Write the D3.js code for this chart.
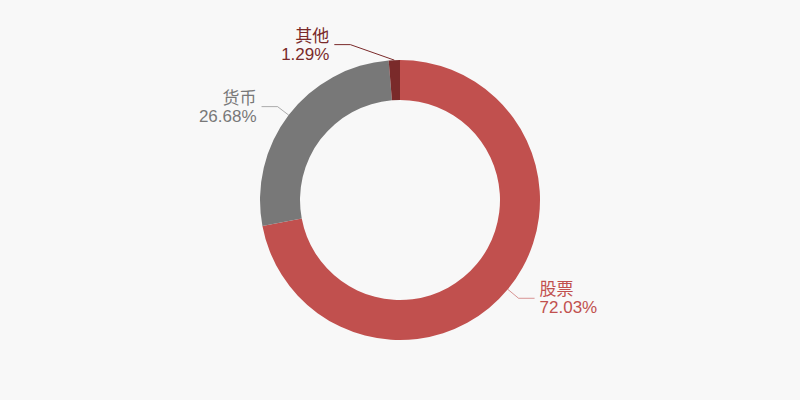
<!DOCTYPE html>
<html>
<head>
<meta charset="utf-8">
<script src="https://cdn.jsdelivr.net/npm/d3@7"></script>
<style>
html,body{margin:0;padding:0;background:#f8f8f8;}
svg{display:block;}
</style>
</head>
<body>
<svg id="chart" width="800" height="400"></svg>
<script>
const categories = ["股票", "货币", "其他"];
const values = [72.03, 26.68, 1.29];
const colors = ["#c1504e", "#787878", "#7a2a2a"];

const W = 800, H = 400, cx = 400, cy = 200;
const rOuter = 140, rInner = 100;

const svg = d3.select("#chart");
svg.append("rect").attr("width", W).attr("height", H).attr("fill", "#f8f8f8");

const data = categories.map((c, i) => ({name: c, value: values[i], color: colors[i]}));
const pie = d3.pie().sort(null).value(d => d.value);
const arcs = pie(data);
const arc = d3.arc().innerRadius(rInner).outerRadius(rOuter);

const g = svg.append("g").attr("transform", `translate(${cx},${cy})`);
g.selectAll("path.slice").data(arcs).enter().append("path")
  .attr("class", "slice")
  .attr("d", arc)
  .attr("fill", d => d.data.color);

// label layout
const len1 = 14, len2 = 16;
const layout = arcs.map(a => {
  const m = (a.startAngle + a.endAngle) / 2;
  const sx = Math.sin(m), sy = -Math.cos(m);
  const p0 = [sx * rOuter, sy * rOuter];
  const p1 = [sx * (rOuter + len1), sy * (rOuter + len1)];
  const right = sx >= 0;
  return {a, p0, p1, right};
});
// simple overlap avoidance on the left side: push upper labels up/away
const left = layout.filter(l => !l.right).sort((a, b) => b.p1[1] - a.p1[1]);
for (let i = 1; i < left.length; i++) {
  const prev = left[i - 1];
  const cur = left[i];
  const minGap = 62;
  if (prev.p1[1] - cur.p1[1] < minGap) {
    cur.p1 = [cur.p0[0] - 44, prev.p1[1] - minGap];
  }
}
layout.forEach(l => {
  const dir = l.right ? 1 : -1;
  l.p2 = [l.p1[0] + dir * len2, l.p1[1]];
});

const lg = g.selectAll("g.lab").data(layout).enter().append("g").attr("class", "lab");
lg.append("polyline")
  .attr("points", d => [d.p0, d.p1, d.p2].map(p => p.join(",")).join(" "))
  .attr("fill", "none")
  .attr("stroke", d => d.a.data.color)
  .attr("stroke-opacity", d => d.a.data.name === "其他" ? 1 : 0.6)
  .attr("stroke-width", 1);

const txt = lg.append("text")
  .attr("font-family", "'Liberation Sans','Noto Sans CJK SC',sans-serif")
  .attr("font-size", 17)
  .attr("fill", d => d.a.data.color)
  .attr("text-anchor", d => d.right ? "start" : "end");
txt.append("tspan")
  .attr("x", d => d.p2[0] + (d.right ? 5 : -5))
  .attr("y", d => d.p2[1] - 3)
  .text(d => d.a.data.name);
txt.append("tspan")
  .attr("x", d => d.p2[0] + (d.right ? 5 : -5))
  .attr("y", d => d.p2[1] + 15)
  .text(d => d.a.data.value.toFixed(2) + "%");
</script>
</body>
</html>
